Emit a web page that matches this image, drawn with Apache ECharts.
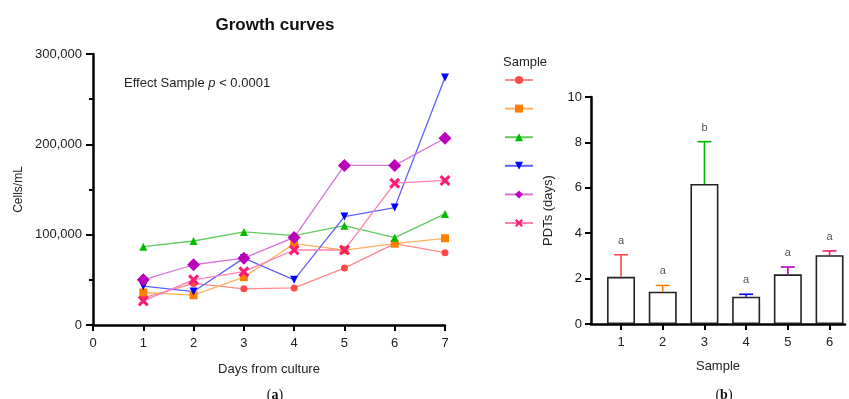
<!DOCTYPE html>
<html><head><meta charset="utf-8">
<script src="https://cdn.jsdelivr.net/npm/echarts@6/dist/echarts.min.js"></script>
<style>html,body{margin:0;padding:0;background:#fff}#c{width:849px;height:399px}</style>
</head><body><div id="c"></div>
<script>
// ---- data ----
const days = [1, 2, 3, 4, 5, 6, 7];
const sampleNames = ['1', '2', '3', '4', '5', '6'];
const s1 = [30000, 46000, 40000, 41000, 63000, 90000, 80000];
const s2 = [36000, 33000, 53000, 90000, 83000, 90000, 96000];
const s3 = [86700, 93000, 103000, 99000, 110000, 96700, 123000];
const s4 = [43000, 37000, 74000, 50000, 120000, 130000, 274000];
const s5 = [50000, 66700, 74000, 97000, 176700, 176700, 206700];
const s6 = [26700, 50000, 59000, 83000, 83000, 157000, 160000];
const pdtSamples = [1, 2, 3, 4, 5, 6];
const pdtMean = [2.08, 1.42, 6.17, 1.2, 2.19, 3.03];
const pdtUpper = [3.05, 1.7, 8.03, 1.31, 2.51, 3.22];
const pdtLetters = ['a', 'a', 'b', 'a', 'a', 'a'];
const xTicksB = [1, 2, 3, 4, 5, 6];

// ---- styles ----
const markerColors = ['#ff4a4a', '#ff8000', '#00bb00', '#0000ff', '#bb00bb', '#ff1a75'];
const lineColors = ['#ff8a8a', '#ffb060', '#60cc60', '#6060ff', '#d575d5', '#ff80b0'];
const symbols = ['circle', 'rect', 'triangle', 'triangle', 'diamond',
  'path://M0,2 L2,0 L5,3 L8,0 L10,2 L7,5 L10,8 L8,10 L5,7 L2,10 L0,8 L3,5 Z'];
const symbolSizes = [7, 8, 8, 8, 13, 11];
const symbolRotates = [0, 0, 0, 180, 0, 0];
const seriesData = [s1, s2, s3, s4, s5, s6];
const font = 'Liberation Sans, Arial, sans-serif';
const serif = 'Liberation Serif, Times New Roman, serif';

const chart = echarts.init(document.getElementById('c'), null, {renderer: 'canvas'});

const lineSeries = seriesData.map((arr, i) => ({
  name: sampleNames[i],
  type: 'line',
  xAxisIndex: 0, yAxisIndex: 0,
  data: days.map((d, j) => [d, arr[j]]),
  symbol: symbols[i],
  symbolSize: symbolSizes[i],
  symbolRotate: symbolRotates[i],
  showSymbol: true,
  itemStyle: {color: markerColors[i]},
  lineStyle: {color: lineColors[i], width: 1.3},
  emphasis: {disabled: true},
  animation: false
}));

const axisLineStyle = {show: true, lineStyle: {color: '#000', width: 2.5}};

const option = {
  animation: false,
  textStyle: {fontFamily: font},
  title: [
    {text: 'Growth curves', left: 270, top: 12, textAlign: 'center',
      textStyle: {fontSize: 17, fontWeight: 'bold', color: '#111', fontFamily: font}},
    {text: '{n|Effect Sample }{i|p}{n| < 0.0001}', left: 119, top: 72,
      textStyle: {fontWeight: 'normal', rich: {
        n: {fontSize: 13, color: '#222', fontWeight: 'normal', fontFamily: font},
        i: {fontSize: 13, color: '#222', fontWeight: 'normal', fontStyle: 'italic', fontFamily: font}}}},
    {text: 'Sample', left: 498, top: 51, textStyle: {fontSize: 13, fontWeight: 'normal', color: '#222', fontFamily: font}},
    {text: '({b|a})', left: 270, top: 383, textAlign: 'center',
      textStyle: {fontSize: 14, fontWeight: 'normal', color: '#111', fontFamily: serif,
        rich: {b: {fontSize: 14, fontWeight: 'bold', color: '#111', fontFamily: serif}}}},
    {text: '({b|b})', left: 719, top: 383, textAlign: 'center',
      textStyle: {fontSize: 14, fontWeight: 'normal', color: '#111', fontFamily: serif,
        rich: {b: {fontSize: 14, fontWeight: 'bold', color: '#111', fontFamily: serif}}}}
  ],
  legend: {
    data: sampleNames,
    orient: 'vertical',
    left: 499, top: 70,
    itemWidth: 28, itemHeight: 10, itemGap: 19.6,
    formatter: () => '',
    selectedMode: false,
    textStyle: {fontSize: 1}
  },
  grid: [
    {left: 93, top: 54, width: 352, height: 271},
    {left: 591, top: 97, width: 254, height: 227}
  ],
  xAxis: [
    {gridIndex: 0, type: 'value', min: 0, max: 7, interval: 1,
      name: 'Days from culture', nameLocation: 'middle', nameGap: 38,
      nameTextStyle: {fontSize: 13, color: '#222', fontFamily: font},
      axisLine: axisLineStyle,
      axisTick: {show: true, length: 6, lineStyle: {color: '#000', width: 2}},
      axisLabel: {fontSize: 13, color: '#222', margin: 12, fontFamily: font},
      splitLine: {show: false}},
    {gridIndex: 1, type: 'value', min: 0.28, max: 6.37,
      name: 'Sample', nameLocation: 'middle', nameGap: 36,
      nameTextStyle: {fontSize: 13, color: '#222', fontFamily: font},
      axisLine: axisLineStyle,
      axisTick: {show: true, length: 6, lineStyle: {color: '#000', width: 2}, customValues: xTicksB},
      axisLabel: {fontSize: 13, color: '#222', margin: 12, fontFamily: font, customValues: xTicksB},
      splitLine: {show: false}}
  ],
  yAxis: [
    {gridIndex: 0, type: 'value', min: 0, max: 300000, interval: 100000,
      name: 'Cells/mL', nameLocation: 'middle', nameGap: 68,
      nameTextStyle: {fontSize: 12, color: '#222', fontFamily: font},
      axisLine: axisLineStyle,
      axisTick: {show: true, length: 7, lineStyle: {color: '#000', width: 2}},
      minorTick: {show: true, splitNumber: 2, length: 4, lineStyle: {color: '#000', width: 2}},
      axisLabel: {fontSize: 13, color: '#222', margin: 11, fontFamily: font,
        formatter: v => v.toLocaleString('en-US')},
      splitLine: {show: false}},
    {gridIndex: 1, type: 'value', min: 0, max: 10, interval: 2,
      name: 'PDTs (days)', nameLocation: 'middle', nameGap: 36,
      nameTextStyle: {fontSize: 13, color: '#222', fontFamily: font},
      axisLine: axisLineStyle,
      axisTick: {show: true, length: 6, lineStyle: {color: '#000', width: 2}},
      axisLabel: {fontSize: 13, color: '#222', margin: 9, fontFamily: font},
      splitLine: {show: false}}
  ],
  series: [
    ...lineSeries,
    {type: 'bar', xAxisIndex: 1, yAxisIndex: 1,
      data: pdtSamples.map((s, i) => [s, pdtMean[i]]),
      barWidth: 28,
      itemStyle: {color: '#fff', borderColor: '#222', borderWidth: 1.6},
      emphasis: {disabled: true}, z: 2},
    {type: 'custom', xAxisIndex: 1, yAxisIndex: 1, z: 3,
      data: pdtSamples.map((s, i) => [s, pdtMean[i], pdtUpper[i]]),
      renderItem: (params, api) => {
        const x = api.value(0);
        const p0 = api.coord([x, api.value(1)]);
        const p1 = api.coord([x, api.value(2)]);
        const c = markerColors[params.dataIndex];
        return {type: 'group', children: [
          {type: 'line', shape: {x1: p0[0], y1: p0[1], x2: p1[0], y2: p1[1]}, style: {stroke: c, lineWidth: 1.6}},
          {type: 'line', shape: {x1: p1[0] - 7, y1: p1[1], x2: p1[0] + 7, y2: p1[1]}, style: {stroke: c, lineWidth: 1.6}},
          {type: 'text', x: p1[0], y: p1[1] - 14,
            style: {text: pdtLetters[params.dataIndex], fill: '#555', fontSize: 11, fontFamily: font,
              align: 'center', verticalAlign: 'middle'}}
        ]};
      }}
  ]
};
chart.setOption(option);
</script>
</body></html>
